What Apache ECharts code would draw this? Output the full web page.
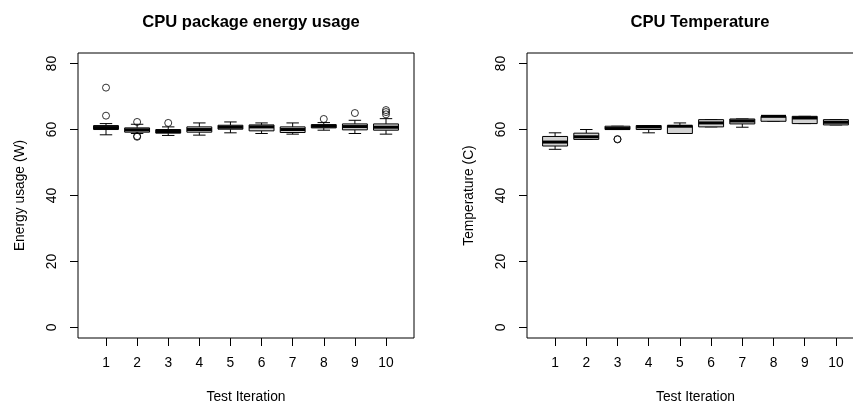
<!DOCTYPE html>
<html>
<head>
<meta charset="utf-8">
<script src="https://cdn.jsdelivr.net/npm/echarts@6/dist/echarts.min.js"></script>
<style>
  html, body { margin: 0; padding: 0; background: #fff; }
  #chart { width: 853px; height: 410px; }
</style>
</head>
<body>
<div id="chart"></div>
<script>
// Test iterations (x positions of the boxes)
const iterations = [1, 2, 3, 4, 5, 6, 7, 8, 9, 10];
const yTicks = [0, 20, 40, 60, 80];

// CPU package energy per iteration: [lower whisker, Q1, median, Q3, upper whisker]
const energyStats = [
  [58.4, 60.0, 60.6, 61.2, 61.8],
  [58.8, 59.2, 59.9, 60.5, 61.6],
  [58.2, 58.9, 59.4, 60.0, 60.8],
  [58.3, 59.2, 60.0, 60.8, 62.0],
  [59.0, 60.1, 60.7, 61.3, 62.3],
  [58.8, 59.6, 60.8, 61.4, 62.0],
  [58.6, 59.1, 60.0, 60.8, 62.0],
  [59.8, 60.5, 61.0, 61.5, 62.1],
  [58.8, 59.9, 60.9, 61.7, 62.8],
  [58.6, 59.8, 60.7, 61.7, 63.3]
];
// Energy outliers: [iteration, value]
const energyOutliers = [
  [1, 64.2], [1, 72.7],
  [2, 62.3], [2, 58.0], [2, 57.8],
  [3, 62.0],
  [8, 63.2],
  [9, 65.0],
  [10, 64.6], [10, 65.3], [10, 65.9]
];

// CPU temperature per iteration: [lower whisker, Q1, median, Q3, upper whisker]
const tempStats = [
  [54.0, 55.0, 56.2, 57.9, 59.0],
  [57.0, 57.0, 57.8, 58.9, 60.0],
  [60.0, 60.0, 60.3, 61.0, 61.0],
  [59.0, 60.0, 60.8, 61.2, 61.2],
  [58.8, 58.8, 61.0, 61.2, 62.0],
  [60.8, 60.8, 62.0, 63.0, 63.0],
  [60.7, 61.7, 62.6, 63.2, 63.2],
  [62.5, 62.5, 64.0, 64.0, 64.0],
  [61.8, 61.8, 63.5, 64.0, 64.0],
  [61.4, 61.4, 62.2, 63.0, 63.0]
];
// Temperature outliers: [iteration, value]
const tempOutliers = [
  [3, 57.0], [3, 57.1]
];

const FONT = '"Liberation Sans", Arial, sans-serif';
const INK = '#000';
const LABEL_SIZE = 13.8;

function boxData(stats) {
  return stats.map((s, i) => [iterations[i]].concat(s));
}

// Draws one box: whiskers, staples, box and a heavy median bar
function renderBox(params, api) {
  const x = api.value(0);
  const lo = api.coord([x, api.value(1)]);
  const q1 = api.coord([x, api.value(2)]);
  const md = api.coord([x, api.value(3)]);
  const q3 = api.coord([x, api.value(4)]);
  const hi = api.coord([x, api.value(5)]);
  const half = api.size([0.4, 0])[0];
  const cap = half / 2;
  const cx = lo[0];
  const line = { stroke: INK, lineWidth: 1 };
  return {
    type: 'group',
    children: [
      { type: 'line', shape: { x1: cx, y1: q3[1], x2: cx, y2: hi[1] }, style: line },
      { type: 'line', shape: { x1: cx, y1: q1[1], x2: cx, y2: lo[1] }, style: line },
      { type: 'line', shape: { x1: cx - cap, y1: hi[1], x2: cx + cap, y2: hi[1] }, style: line },
      { type: 'line', shape: { x1: cx - cap, y1: lo[1], x2: cx + cap, y2: lo[1] }, style: line },
      { type: 'rect', shape: { x: cx - half, y: q3[1], width: 2 * half, height: q1[1] - q3[1] },
        style: { fill: '#d3d3d3', stroke: INK, lineWidth: 1 } },
      { type: 'line', shape: { x1: cx - half, y1: md[1], x2: cx + half, y2: md[1] },
        style: { stroke: INK, lineWidth: 3 } }
    ]
  };
}

function xAxisFor(idx) {
  return {
    type: 'value', gridIndex: idx, min: 0.1, max: 10.9,
    name: 'Test Iteration', nameLocation: 'middle', nameGap: 52,
    nameTextStyle: { fontFamily: FONT, fontSize: LABEL_SIZE, color: INK },
    axisLine: { show: false, onZero: false },
    axisTick: { show: true, inside: false, length: 8, customValues: iterations,
      lineStyle: { color: INK, width: 1 } },
    axisLabel: { show: true, margin: 18, customValues: iterations,
      fontFamily: FONT, fontSize: LABEL_SIZE, color: INK },
    splitLine: { show: false }
  };
}

function yAxisFor(idx, title) {
  return {
    type: 'value', gridIndex: idx, min: -3.2, max: 83.2,
    name: title, nameLocation: 'middle', nameGap: 51,
    nameTextStyle: { fontFamily: FONT, fontSize: LABEL_SIZE, color: INK },
    axisLine: { show: false, onZero: false },
    axisTick: { show: true, inside: false, length: 8, customValues: yTicks,
      lineStyle: { color: INK, width: 1 } },
    axisLabel: { show: true, rotate: 90, margin: 19, customValues: yTicks,
      fontFamily: FONT, fontSize: LABEL_SIZE, color: INK },
    splitLine: { show: false }
  };
}

const chart = echarts.init(document.getElementById('chart'), null, { renderer: 'canvas' });
chart.setOption({
  animation: false,
  backgroundColor: '#fff',
  title: [
    { text: 'CPU package energy usage', left: 246, top: 9, textAlign: 'center',
      textStyle: { fontFamily: FONT, fontSize: 16.6, fontWeight: 'bold', color: INK } },
    { text: 'CPU Temperature', left: 695, top: 9, textAlign: 'center',
      textStyle: { fontFamily: FONT, fontSize: 16.6, fontWeight: 'bold', color: INK } }
  ],
  grid: [
    { left: 78, top: 53, width: 336, height: 285, show: true, outerBoundsMode: 'none',
      containLabel: false, borderColor: INK, borderWidth: 1, backgroundColor: 'transparent' },
    { left: 527, top: 53, width: 337, height: 285, show: true, outerBoundsMode: 'none',
      containLabel: false, borderColor: INK, borderWidth: 1, backgroundColor: 'transparent' }
  ],
  xAxis: [xAxisFor(0), xAxisFor(1)],
  yAxis: [yAxisFor(0, 'Energy usage (W)'), yAxisFor(1, 'Temperature (C)')],
  series: [
    { type: 'custom', xAxisIndex: 0, yAxisIndex: 0, renderItem: renderBox,
      encode: { x: 0, y: [1, 2, 3, 4, 5] }, data: boxData(energyStats) },
    { type: 'scatter', xAxisIndex: 0, yAxisIndex: 0, symbol: 'circle', symbolSize: 7,
      itemStyle: { color: 'rgba(0,0,0,0)', borderColor: INK, borderWidth: 1 },
      data: energyOutliers },
    { type: 'custom', xAxisIndex: 1, yAxisIndex: 1, renderItem: renderBox,
      encode: { x: 0, y: [1, 2, 3, 4, 5] }, data: boxData(tempStats) },
    { type: 'scatter', xAxisIndex: 1, yAxisIndex: 1, symbol: 'circle', symbolSize: 7,
      itemStyle: { color: 'rgba(0,0,0,0)', borderColor: INK, borderWidth: 1 },
      data: tempOutliers }
  ]
});
</script>
</body>
</html>
